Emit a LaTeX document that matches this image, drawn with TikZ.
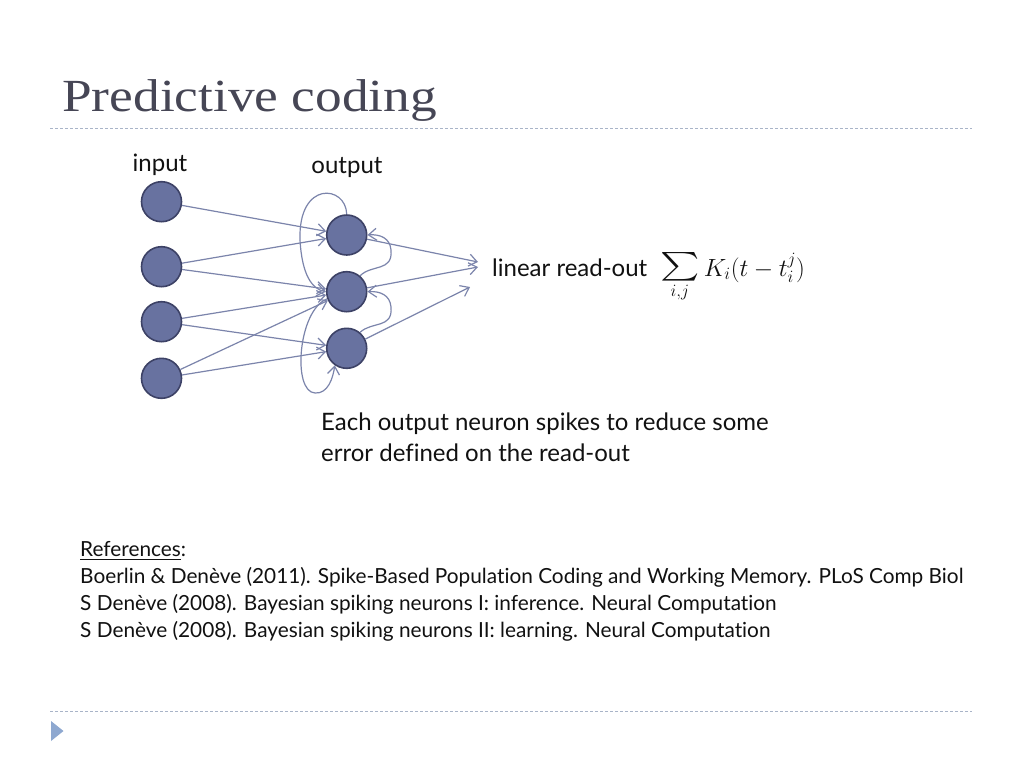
\documentclass[tikz,border=0pt]{standalone}
\usepackage{exscale}
\usepackage{graphicx}
\usepackage{fontspec}
\setmainfont[Ligatures=NoCommon]{Lato}
\newfontfamily\titlefont[FakeStretch=1.16]{Liberation Serif}
\usetikzlibrary{arrows.meta}
\definecolor{titlecol}{HTML}{464655}
\definecolor{neufill}{HTML}{6872A0}
\definecolor{neudraw}{HTML}{3D4266}
\definecolor{linkcol}{HTML}{7B84AB}
\definecolor{dashcol}{HTML}{A9B4C8}
\definecolor{tricol}{HTML}{8EA8D0}
\definecolor{txtcol}{HTML}{111111}
\tikzset{
  neuron/.style={circle, minimum size=40pt, inner sep=0pt, fill=neufill, draw=neudraw, line width=1.6pt},
  link/.style={draw=linkcol, line width=1.2pt, -{Straight Barb[length=8pt,width=12pt,line width=1.2pt]}},
  sepline/.style={draw=dashcol, line width=1pt, dash pattern=on 3pt off 2pt},
  lbl/.style={inner sep=0pt, text=txtcol, font=\fontsize{24}{28}\selectfont},
  refs/.style={inner sep=0pt, text=txtcol, font=\fontsize{20.8}{27}\selectfont}
}
\begin{document}
\begin{tikzpicture}[x=1pt,y=-1pt]
\useasboundingbox[fill=white] (0,0) rectangle (1024,768);
% title
\node[anchor=base west, inner sep=0pt, text=titlecol, font=\titlefont\fontsize{46}{50}\selectfont] (title) at (62,111.5) {Predictive coding};
\coordinate (tl1) at (50,128); \coordinate (tl2) at (972,128);
\draw[sepline] (tl1) -- (tl2);
\coordinate (bl1) at (50,711); \coordinate (bl2) at (972,711);
\draw[sepline] (bl1) -- (bl2);
\fill[tricol] (51,721) -- (63.5,731) -- (51,741) -- cycle;
% neurons
\node[neuron] (i1) at (161.5,201.7) {};
\node[neuron] (i2) at (161.5,266.7) {};
\node[neuron] (i3) at (161.5,321.7) {};
\node[neuron] (i4) at (161.5,378.3) {};
\node[neuron] (o1) at (346.7,235) {};
\node[neuron] (o2) at (346.7,291.7) {};
\node[neuron] (o3) at (346.7,348.3) {};
\node[lbl, anchor=base] (inlbl) at (160,171) {input};
\node[lbl, anchor=base] (outlbl) at (347,173) {output};
% feedforward
\draw[link] (i1) -- (o1);
\draw[link] (i2) -- (o1);
\draw[link] (i2) -- (o2);
\draw[link] (i3) -- (o2);
\draw[link] (i3) -- (o3);
\draw[link] (i4) -- (o2);
\draw[link] (i4) -- (o3);
% recurrent left
\draw[link] (o1.north) .. controls (346,185) and (298,180) .. (300,240) .. controls (302,275) and (312,289) .. (o2.west);
\draw[link] (o2.200) .. controls (298,310) and (292,392) .. (315,393) .. controls (328,394) and (333,378) .. (o3.235);
% recurrent right
\draw[link] (o2.50) .. controls (372,264) and (393,272) .. (391,250) .. controls (390,238) and (380,234) .. (o1.east);
\draw[link] (o3.50) .. controls (372,321) and (393,329) .. (391,307) .. controls (390,295) and (380,291) .. (o2.east);
% readout
\coordinate (r1) at (478,262);
\coordinate (r2) at (478,267);
\coordinate (r3) at (470,287);
\draw[link] (o1) -- (r1);
\draw[link] (o2) -- (r2);
\draw[link] (o3) -- (r3);
\node[lbl, anchor=base west] (ro) at (492,276) {linear read-out};
\node[lbl, anchor=base west, font=\fontsize{26}{30}\selectfont] (eq) at (660,276) {$\mathop{\raisebox{2pt}{\scalebox{1.5}[1.15]{$\textstyle\sum$}}}\limits_{i,j} K_i(t-t_i^j)$};
% description
\node[lbl, anchor=base west, align=left] (desc1) at (321,430) {Each output neuron spikes to reduce some};
\node[lbl, anchor=base west, align=left] (desc2) at (321,461) {error defined on the read-out};
% references
\node[refs, anchor=base west] (ref0) at (80,556) {\underline{References}:};
\node[refs, anchor=base west] (ref1) at (80,583) {Boerlin \& Denève (2011). Spike-Based Population Coding and Working Memory. PLoS Comp Biol};
\node[refs, anchor=base west] (ref2) at (80,610) {S Denève (2008). Bayesian spiking neurons I: inference. Neural Computation};
\node[refs, anchor=base west] (ref3) at (80,637) {S Denève (2008). Bayesian spiking neurons II: learning. Neural Computation};
\end{tikzpicture}
\end{document}
